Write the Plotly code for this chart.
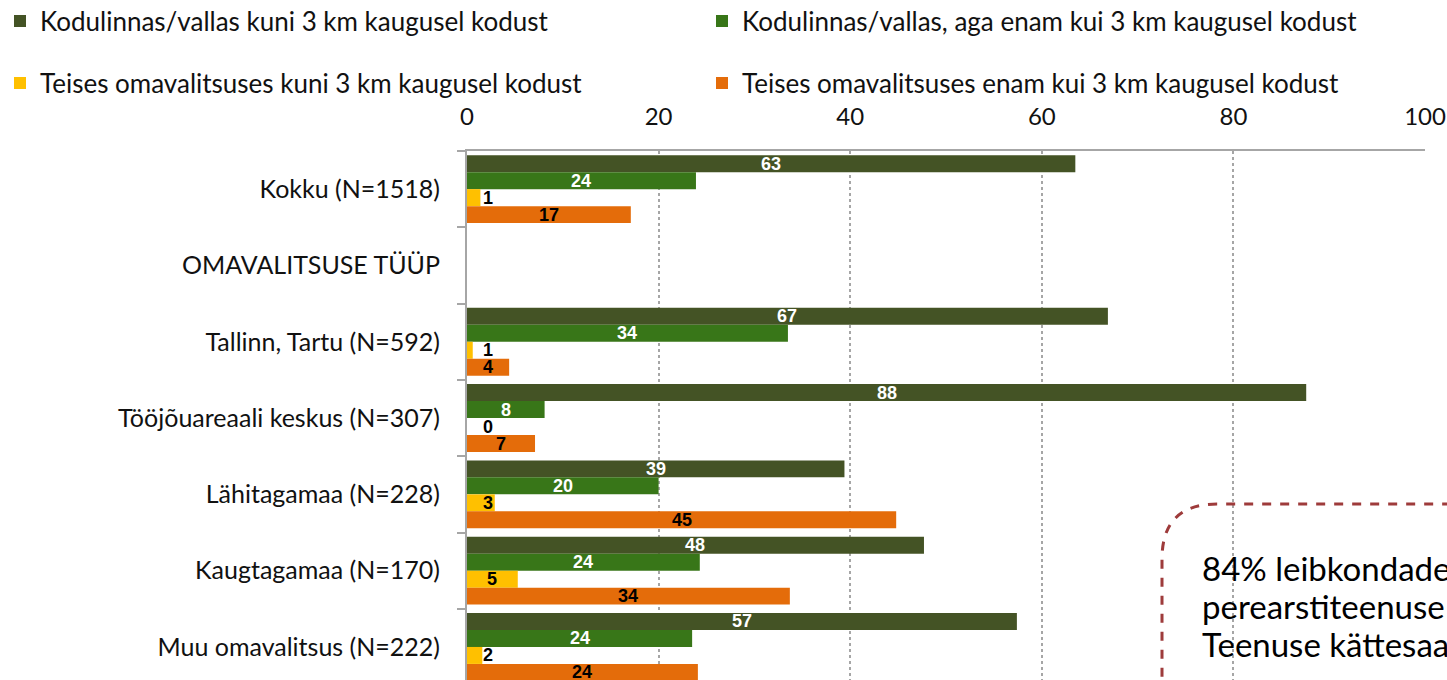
import plotly.graph_objects as go

categories = [
    "Kokku (N=1518)",
    "OMAVALITSUSE TÜÜP",
    "Tallinn, Tartu (N=592)",
    "Tööjõuareaali keskus (N=307)",
    "Lähitagamaa (N=228)",
    "Kaugtagamaa (N=170)",
    "Muu omavalitsus (N=222)",
]
series_names = [
    "Kodulinnas/vallas kuni 3 km kaugusel kodust",
    "Kodulinnas/vallas, aga enam kui 3 km kaugusel kodust",
    "Teises omavalitsuses kuni 3 km kaugusel kodust",
    "Teises omavalitsuses enam kui 3 km kaugusel kodust",
]
s1_values = [63.5, None, 66.9, 87.6, 39.4, 47.7, 57.4]
s2_values = [23.9, None, 33.5, 8.1, 20.0, 24.3, 23.5]
s3_values = [1.4, None, 0.6, 0.0, 2.9, 5.3, 1.6]
s4_values = [17.1, None, 4.4, 7.1, 44.8, 33.7, 24.1]
s1_labels = ["63", None, "67", "88", "39", "48", "57"]
s2_labels = ["24", None, "34", "8", "20", "24", "24"]
s3_labels = ["1", None, "1", "0", "3", "5", "2"]
s4_labels = ["17", None, "4", "7", "45", "34", "24"]
x_ticks = [0, 20, 40, 60, 80, 100]
note_lines = ["84% leibkondadest", "perearstiteenuse", "Teenuse kättesaadavus"]

all_values = [s1_values, s2_values, s3_values, s4_values]
all_labels = [s1_labels, s2_labels, s3_labels, s4_labels]
colors = ["#445325", "#387618", "#FFC000", "#E46C0A"]
label_colors = ["white", "white", "black", "black"]

W, H = 1447, 680
L, R, T, B = 467, 22, 151, 0
band_px = 76.3
plot_h = H - T - B
pw = W - L - R
span = plot_h / band_px
bargap = 0.11
bar_w = (1 - bargap) / 4

FONT = "Lato"
legend_ids = ["legend2", "legend3", "legend4", "legend5"]
fig = go.Figure()
for k in range(4):
    fig.add_trace(go.Bar(
        y=categories, x=all_values[k], orientation="h",
        name=series_names[k], marker=dict(color=colors[k], line=dict(width=0)),
        legend=legend_ids[k], hoverinfo="skip",
    ))

annotations = []
for k in range(4):
    for i, (v, lab) in enumerate(zip(all_values[k], all_labels[k])):
        if v is None:
            continue
        annotations.append(dict(
            x=max(v / 2, 2.2), y=i - 1.5 * bar_w + k * bar_w,
            xref="x", yref="y", text=f"<b>{lab}</b>", showarrow=False,
            font=dict(family="Liberation Sans, Arial", size=18, color=label_colors[k]),
            xanchor="center", yanchor="middle",
        ))

for j, line in enumerate(note_lines):
    annotations.append(dict(
        x=(1200 - L) / pw, y=(H - (568 + 38 * j) - B) / plot_h,
        xref="paper", yref="paper", text=line, showarrow=False,
        xanchor="left", yanchor="middle",
        font=dict(family=FONT, size=33, color="black"),
    ))

bx0 = (1162 - L) / pw
by0 = (H - 504 - B) / plot_h
rx = 55 / pw
ry = 55 / plot_h
path = (f"M {bx0},{-0.3} L {bx0},{by0 - ry} Q {bx0},{by0} {bx0 + rx},{by0} "
        f"L {1.2},{by0}")

legend_pos = [(-5, 21), (702, 21), (-5, 83), (702, 83)]
legend_cfg = {}
for lid, (px, py) in zip(legend_ids, legend_pos):
    legend_cfg[lid] = dict(
        orientation="h", xref="container", yref="container",
        x=px / W, y=1 - py / H, xanchor="left", yanchor="middle",
        font=dict(family=FONT, size=26, color="#111111"),
        bgcolor="rgba(0,0,0,0)", itemclick=False, itemdoubleclick=False,
    )

fig.update_layout(
    width=W, height=H,
    margin=dict(l=L, r=R, t=T, b=B, pad=0, autoexpand=False),
    paper_bgcolor="white", plot_bgcolor="white",
    barmode="group", bargap=bargap, bargroupgap=0,
    font=dict(family=FONT, size=25, color="#111111"),
    annotations=annotations,
    shapes=[dict(type="path", path=path, xref="paper", yref="paper",
                 line=dict(color="#9E3B3B", width=3, dash="dash"))],
    xaxis=dict(side="top", range=[0, 100], tickvals=x_ticks,
               showline=True, linecolor="#A6A6A6", linewidth=2,
               showgrid=True, gridcolor="#A6A6A6", griddash="dot", gridwidth=1.5,
               zeroline=False, ticks="", ticklabelstandoff=14,
               tickfont=dict(family=FONT, size=24, color="#111111")),
    yaxis=dict(categoryorder="array", categoryarray=categories,
               range=[-0.5 + span, -0.5], showline=True, linecolor="#A6A6A6",
               linewidth=2, ticks="outside", ticklen=8, tickcolor="#A6A6A6",
               tickwidth=2, tickson="boundaries", showgrid=False,
               ticklabelstandoff=20,
               tickfont=dict(family=FONT, size=25, color="#111111")),
    **legend_cfg,
)

fig.write_html(
    "out.html",
    config={"displayModeBar": False},
    post_script="document.body.style.margin='0';document.body.style.overflow='hidden';",
)
